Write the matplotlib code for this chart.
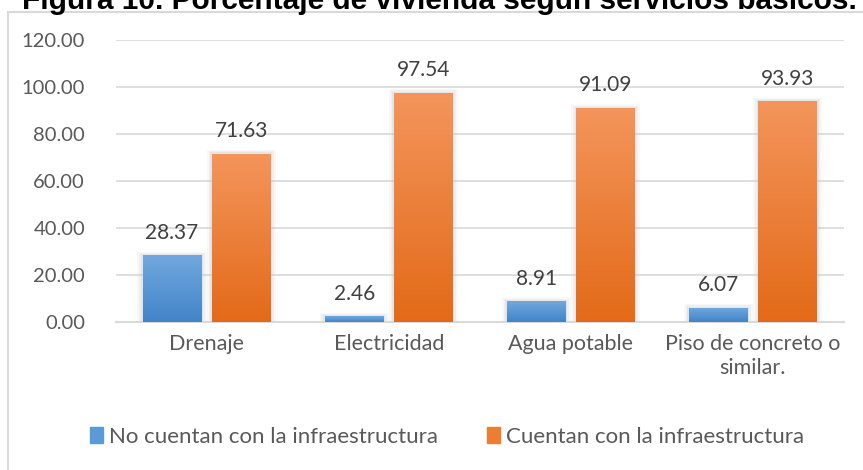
import matplotlib
matplotlib.use("Agg")
import matplotlib.pyplot as plt
import matplotlib.patches as patches
from matplotlib.colors import LinearSegmentedColormap
import numpy as np

categories = ["Drenaje", "Electricidad", "Agua potable", "Piso de concreto o\nsimilar."]
no_cuentan = [28.37, 2.46, 8.91, 6.07]
cuentan = [71.63, 97.54, 91.09, 93.93]
series_names = ["No cuentan con la infraestructura", "Cuentan con la infraestructura"]
title = "Figura 10. Porcentaje de vivienda según servicios básicos."

plt.rcParams['font.family'] = ['Lato', 'DejaVu Sans']
txt_color = '#595959'

blue_map = LinearSegmentedColormap.from_list('b', ['#4284c8', '#72a8de'])
orange_map = LinearSegmentedColormap.from_list('o', ['#e36a18', '#f4955c'])

fig = plt.figure(figsize=(8.63, 4.70), dpi=100)
ax = fig.add_axes([0.134, 0.315, 0.844, 0.6])

# outer chart frame (runs past right/bottom edge like the crop)
fig.patches.append(patches.Rectangle((8 / 863, -0.1), 1.2, 1 - 12 / 470 + 0.1,
                                     transform=fig.transFigure, fill=False,
                                     edgecolor='#d9d9d9', lw=1.5, zorder=0))

x = np.arange(len(categories))
width = 0.32
offset = 0.19

def gradient_bars(xpos, vals, cmap):
    bars = ax.bar(xpos, vals, width, color='none', zorder=3)
    grad = np.linspace(0, 1, 256).reshape(-1, 1)
    for b in bars:
        x0, y0 = b.get_x(), b.get_y()
        w, h = b.get_width(), b.get_height()
        # soft halo behind the bar
        for k, a in zip([0.06, 0.04, 0.02], [0.12, 0.18, 0.25]):
            ax.add_patch(patches.Rectangle((x0 - k / 2, 0), w + k, h + k * 25,
                                           facecolor='#c8c8c8', edgecolor='none',
                                           alpha=a, zorder=2))
        im = ax.imshow(grad, cmap=cmap, origin='lower', aspect='auto',
                       extent=(x0, x0 + w, y0, y0 + h), zorder=3)
        im.set_clip_path(b)
    return bars

b1 = gradient_bars(x - offset, no_cuentan, blue_map)
b2 = gradient_bars(x + offset, cuentan, orange_map)

for bars, vals in [(b1, no_cuentan), (b2, cuentan)]:
    for b, v in zip(bars, vals):
        ax.annotate(f"{v:.2f}", (b.get_x() + b.get_width() / 2, v),
                    xytext=(0, 9), textcoords='offset points',
                    ha='center', va='bottom', fontsize=15, color='#404040')

ax.set_xlim(-0.5, len(categories) - 0.5)
ax.set_ylim(0, 120)
ax.set_yticks(np.arange(0, 121, 20))
ax.set_yticklabels([f"{t:.2f}" for t in np.arange(0, 121, 20)])
ax.set_xticks(x)
ax.set_xticklabels(categories, fontsize=15.5)
ax.tick_params(axis='both', length=0, colors=txt_color)
ax.tick_params(axis='y', pad=22, labelsize=14.5)
ax.tick_params(axis='x', pad=9)
ax.grid(axis='y', color='#d9d9d9', lw=1.2, zorder=0)
ax.set_axisbelow(True)
for s in ['top', 'right', 'left']:
    ax.spines[s].set_visible(False)
ax.spines['bottom'].set_color('#d9d9d9')
ax.spines['bottom'].set_linewidth(1.5)

handles = [patches.Patch(color='#5b9bd5'), patches.Patch(color='#ed7d31')]
fig.legend(handles, series_names, loc='center', bbox_to_anchor=(0.518, 1 - 437 / 470),
           ncol=2, frameon=False, fontsize=16, labelcolor=txt_color,
           handlelength=0.6, handleheight=0.7, handletextpad=0.25, columnspacing=2.2)

fig.text(0.509, 1 - 9 / 470, title, ha='center', va='baseline',
         fontsize=21.5, fontweight='bold', family=['Liberation Sans', 'DejaVu Sans'])

fig.savefig("out.png", dpi=100)
